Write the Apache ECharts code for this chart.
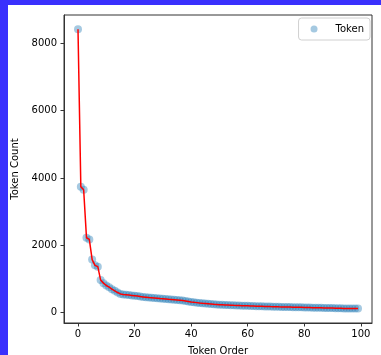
<!DOCTYPE html>
<html>
<head>
<meta charset="utf-8">
<script src="https://cdn.jsdelivr.net/npm/echarts@6/dist/echarts.min.js"></script>
<style>
html,body{margin:0;padding:0;background:#3a30fd;width:381px;height:355px;overflow:hidden;}
#c{position:absolute;left:8px;top:5px;width:373px;height:350px;background:#fff;}
</style>
</head>
<body>
<div id="c"></div>
<script>
const tokenOrder = Array.from({length:100},(_,i)=>i);
const tokenCount = [
8420,3740,3650,2220,2170,1570,1400,1360,960,870,
800,750,690,640,590,550,535,525,515,505,
495,485,470,460,450,440,435,428,420,412,
405,398,390,385,378,370,360,350,338,325,
312,300,290,280,272,265,258,250,242,236,
230,226,222,218,214,210,207,204,200,197,
194,191,188,185,182,180,177,175,172,170,
168,165,163,161,159,157,155,153,151,149,
147,145,143,141,139,137,135,133,131,129,
127,125,123,121,119,118,116,115,113,112
];
const xTicks = [0,20,40,60,80,100];
const yTicks = [0,2000,4000,6000,8000];

const pts = tokenOrder.map((x,i)=>[x,tokenCount[i]]);
const font = 'DejaVu Sans';
const chart = echarts.init(document.getElementById('c'), null, {renderer:'canvas'});
chart.setOption({
  animation:false,
  textStyle:{fontFamily:font},
  grid:{left:56,top:10,right:9,bottom:32,containLabel:false,outerBoundsMode:'none',
        show:true,borderColor:'#333',borderWidth:1,backgroundColor:'#fff'},
  legend:{
    data:['Token'],right:11,top:13,orient:'vertical',
    borderColor:'#d0d0d0',borderWidth:1,borderRadius:3,padding:[6,6,6,12],
    itemWidth:7,itemHeight:7,itemGap:5,
    textStyle:{fontFamily:font,fontSize:10,color:'#000',padding:[0,0,0,13]}
  },
  xAxis:{
    type:'value',min:-4.95,max:103.95,
    name:'Token Order',nameLocation:'middle',nameGap:23,
    nameTextStyle:{fontFamily:font,fontSize:10,color:'#000'},
    axisLine:{show:true,onZero:false,lineStyle:{color:'#333',width:1}},
    axisTick:{show:true,customValues:xTicks,length:3.5,lineStyle:{color:'#333'}},
    axisLabel:{customValues:xTicks,fontFamily:font,fontSize:10,color:'#000',margin:6,
               formatter:v=>String(v)},
    splitLine:{show:false}
  },
  yAxis:{
    type:'value',min:-316,max:8846,
    name:'Token Count',nameLocation:'middle',nameGap:38,
    nameTextStyle:{fontFamily:font,fontSize:10,color:'#000'},
    axisLine:{show:true,onZero:false,lineStyle:{color:'#333',width:1}},
    axisTick:{show:true,customValues:yTicks,length:3.5,lineStyle:{color:'#333'}},
    axisLabel:{customValues:yTicks,fontFamily:font,fontSize:10,color:'#000',margin:7,
               formatter:v=>String(v)},
    splitLine:{show:false}
  },
  series:[
    {name:'Token',type:'scatter',data:pts,symbolSize:8,
     itemStyle:{color:'rgba(31,119,180,0.5)'},z:2},
    {name:'Fit',type:'line',data:pts,showSymbol:false,symbol:'none',
     lineStyle:{color:'#ff0000',width:1.5},z:3}
  ]
});
</script>
</body>
</html>
